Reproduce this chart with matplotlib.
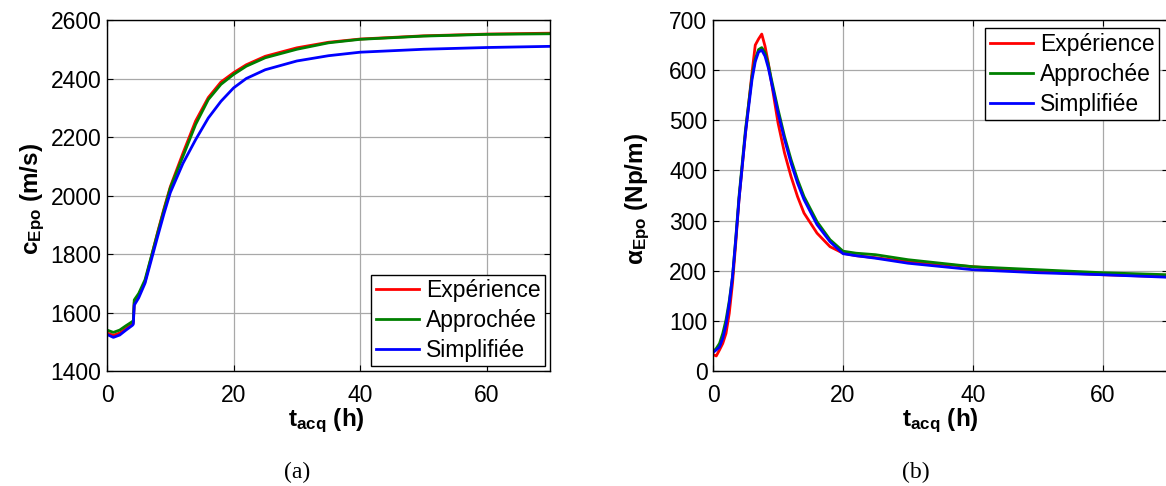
import matplotlib
matplotlib.use('Agg')
import matplotlib.pyplot as plt

plt.rcParams['font.family'] = ['Liberation Sans', 'DejaVu Sans']
plt.rcParams['mathtext.fontset'] = 'custom'
plt.rcParams['mathtext.rm'] = 'Liberation Sans'
plt.rcParams['mathtext.bf'] = 'Liberation Sans:bold'
plt.rcParams['mathtext.it'] = 'Liberation Sans:italic'

labels = ['Expérience', 'Approchée', 'Simplifiée']
colors = ['#ff0000', '#008000', '#0000ff']

# (a) speed of sound c_Epo (m/s) vs t_acq (h)
t_c = [0, 1, 2, 3, 4, 4.15, 4.3, 5, 6, 7, 8, 9, 10, 12, 14, 16, 18, 20, 22, 25, 30, 35, 40, 50, 60, 70]
c_exp = [1530, 1522, 1530, 1545, 1560, 1565, 1635, 1660, 1705, 1790, 1875, 1955, 2030, 2145, 2255, 2335, 2388,
         2420, 2447, 2476, 2505, 2524, 2535, 2546, 2552, 2555]
c_app = [1540, 1532, 1540, 1555, 1569, 1572, 1643, 1665, 1712, 1792, 1872, 1951, 2026, 2134, 2243, 2328, 2380,
         2414, 2442, 2471, 2500, 2522, 2534, 2545, 2551, 2553]
c_sim = [1525, 1515, 1523, 1540, 1556, 1560, 1625, 1650, 1700, 1780, 1860, 1938, 2010, 2110, 2191, 2265, 2322,
         2368, 2400, 2430, 2460, 2478, 2490, 2500, 2506, 2510]

# (b) attenuation alpha_Epo (Np/m) vs t_acq (h)
t_a = [0, 0.5, 1, 1.5, 2, 2.5, 3, 3.5, 4, 5, 6, 6.5, 7, 7.5, 8, 8.5, 9, 10, 11, 12, 13, 14, 16, 18, 20, 22, 25,
       30, 40, 50, 60, 70]
a_exp = [33, 30, 42, 55, 75, 115, 175, 255, 342, 475, 595, 650, 662, 672, 648, 615, 575, 495, 435, 388, 348, 315,
         275, 248, 235, 230, 226, 218, 208, 198, 192, 188]
a_app = [38, 45, 55, 75, 102, 140, 188, 265, 348, 482, 588, 622, 641, 645, 635, 612, 581, 522, 468, 422, 382, 348,
         298, 262, 239, 235, 232, 222, 208, 202, 196, 192]
a_sim = [37, 42, 48, 65, 92, 135, 188, 262, 342, 475, 581, 617, 636, 640, 628, 605, 575, 515, 462, 415, 375, 342,
         292, 258, 234, 230, 225, 215, 202, 196, 192, 187]

fig = plt.figure(figsize=(11.66, 4.86), dpi=100)
ax1 = fig.add_axes([0.0918, 0.2366, 0.3799, 0.7222])
ax2 = fig.add_axes([0.6115, 0.2366, 0.3902, 0.7222])


def style(ax):
    ax.grid(True, color='#a8a8a8', linewidth=0.9)
    ax.set_axisbelow(True)
    ax.tick_params(direction='in', length=4, width=0.8, top=True, right=True, labelsize=16.5, color='black')
    ax.tick_params(axis='x', pad=9)
    ax.tick_params(axis='y', pad=4)
    for s in ax.spines.values():
        s.set_linewidth(1.0)


for ys, lab, col in zip([c_exp, c_app, c_sim], labels, colors):
    ax1.plot(t_c, ys, color=col, lw=2.0, label=lab)
ax1.set_xlim(0, 70)
ax1.set_ylim(1400, 2600)
ax1.set_xticks([0, 20, 40, 60])
ax1.set_yticks(range(1400, 2601, 200))
style(ax1)
ax1.set_ylabel(r'$\mathbf{c_{Epo}\ (m/s)}$', fontsize=17.5)
ax1.yaxis.set_label_coords(-0.135, 0.49)
ax1.set_xlabel(r'$\mathbf{t_{acq}\ (h)}$', fontsize=17.5)
ax1.xaxis.set_label_coords(0.494, -0.1)
leg1 = ax1.legend(loc='lower right', fontsize=16.5, handlelength=1.9, handletextpad=0.3, labelspacing=0.3,
                  borderpad=0.2, borderaxespad=0.2, fancybox=False, framealpha=1, edgecolor='black')
leg1.get_frame().set_linewidth(1.0)

for ys, lab, col in zip([a_exp, a_app, a_sim], labels, colors):
    ax2.plot(t_a, ys, color=col, lw=2.0, label=lab)
ax2.set_xlim(0, 70)
ax2.set_ylim(0, 700)
ax2.set_xticks([0, 20, 40, 60])
ax2.set_yticks(range(0, 701, 100))
style(ax2)
ax2.set_ylabel(r'$\mathbf{\alpha_{Epo}\ (Np/m)}$', fontsize=17.5)
ax2.yaxis.set_label_coords(-0.134, 0.49)
ax2.set_xlabel(r'$\mathbf{t_{acq}\ (h)}$', fontsize=17.5)
ax2.xaxis.set_label_coords(0.5, -0.1)
leg2 = ax2.legend(loc='upper left', bbox_to_anchor=(0.845, 0.942), bbox_transform=fig.transFigure,
                  fontsize=16.5, handlelength=1.9, handletextpad=0.3, labelspacing=0.3,
                  borderpad=0.2, borderaxespad=0.0, fancybox=False, framealpha=1, edgecolor='black')
leg2.get_frame().set_linewidth(1.0)

fig.text(297 / 1166, 1 - 472 / 486, '(a)', family='Liberation Serif', fontsize=17, ha='center', va='center')
fig.text(916 / 1166, 1 - 472 / 486, '(b)', family='Liberation Serif', fontsize=17, ha='center', va='center')

fig.savefig('out.png', dpi=100)
